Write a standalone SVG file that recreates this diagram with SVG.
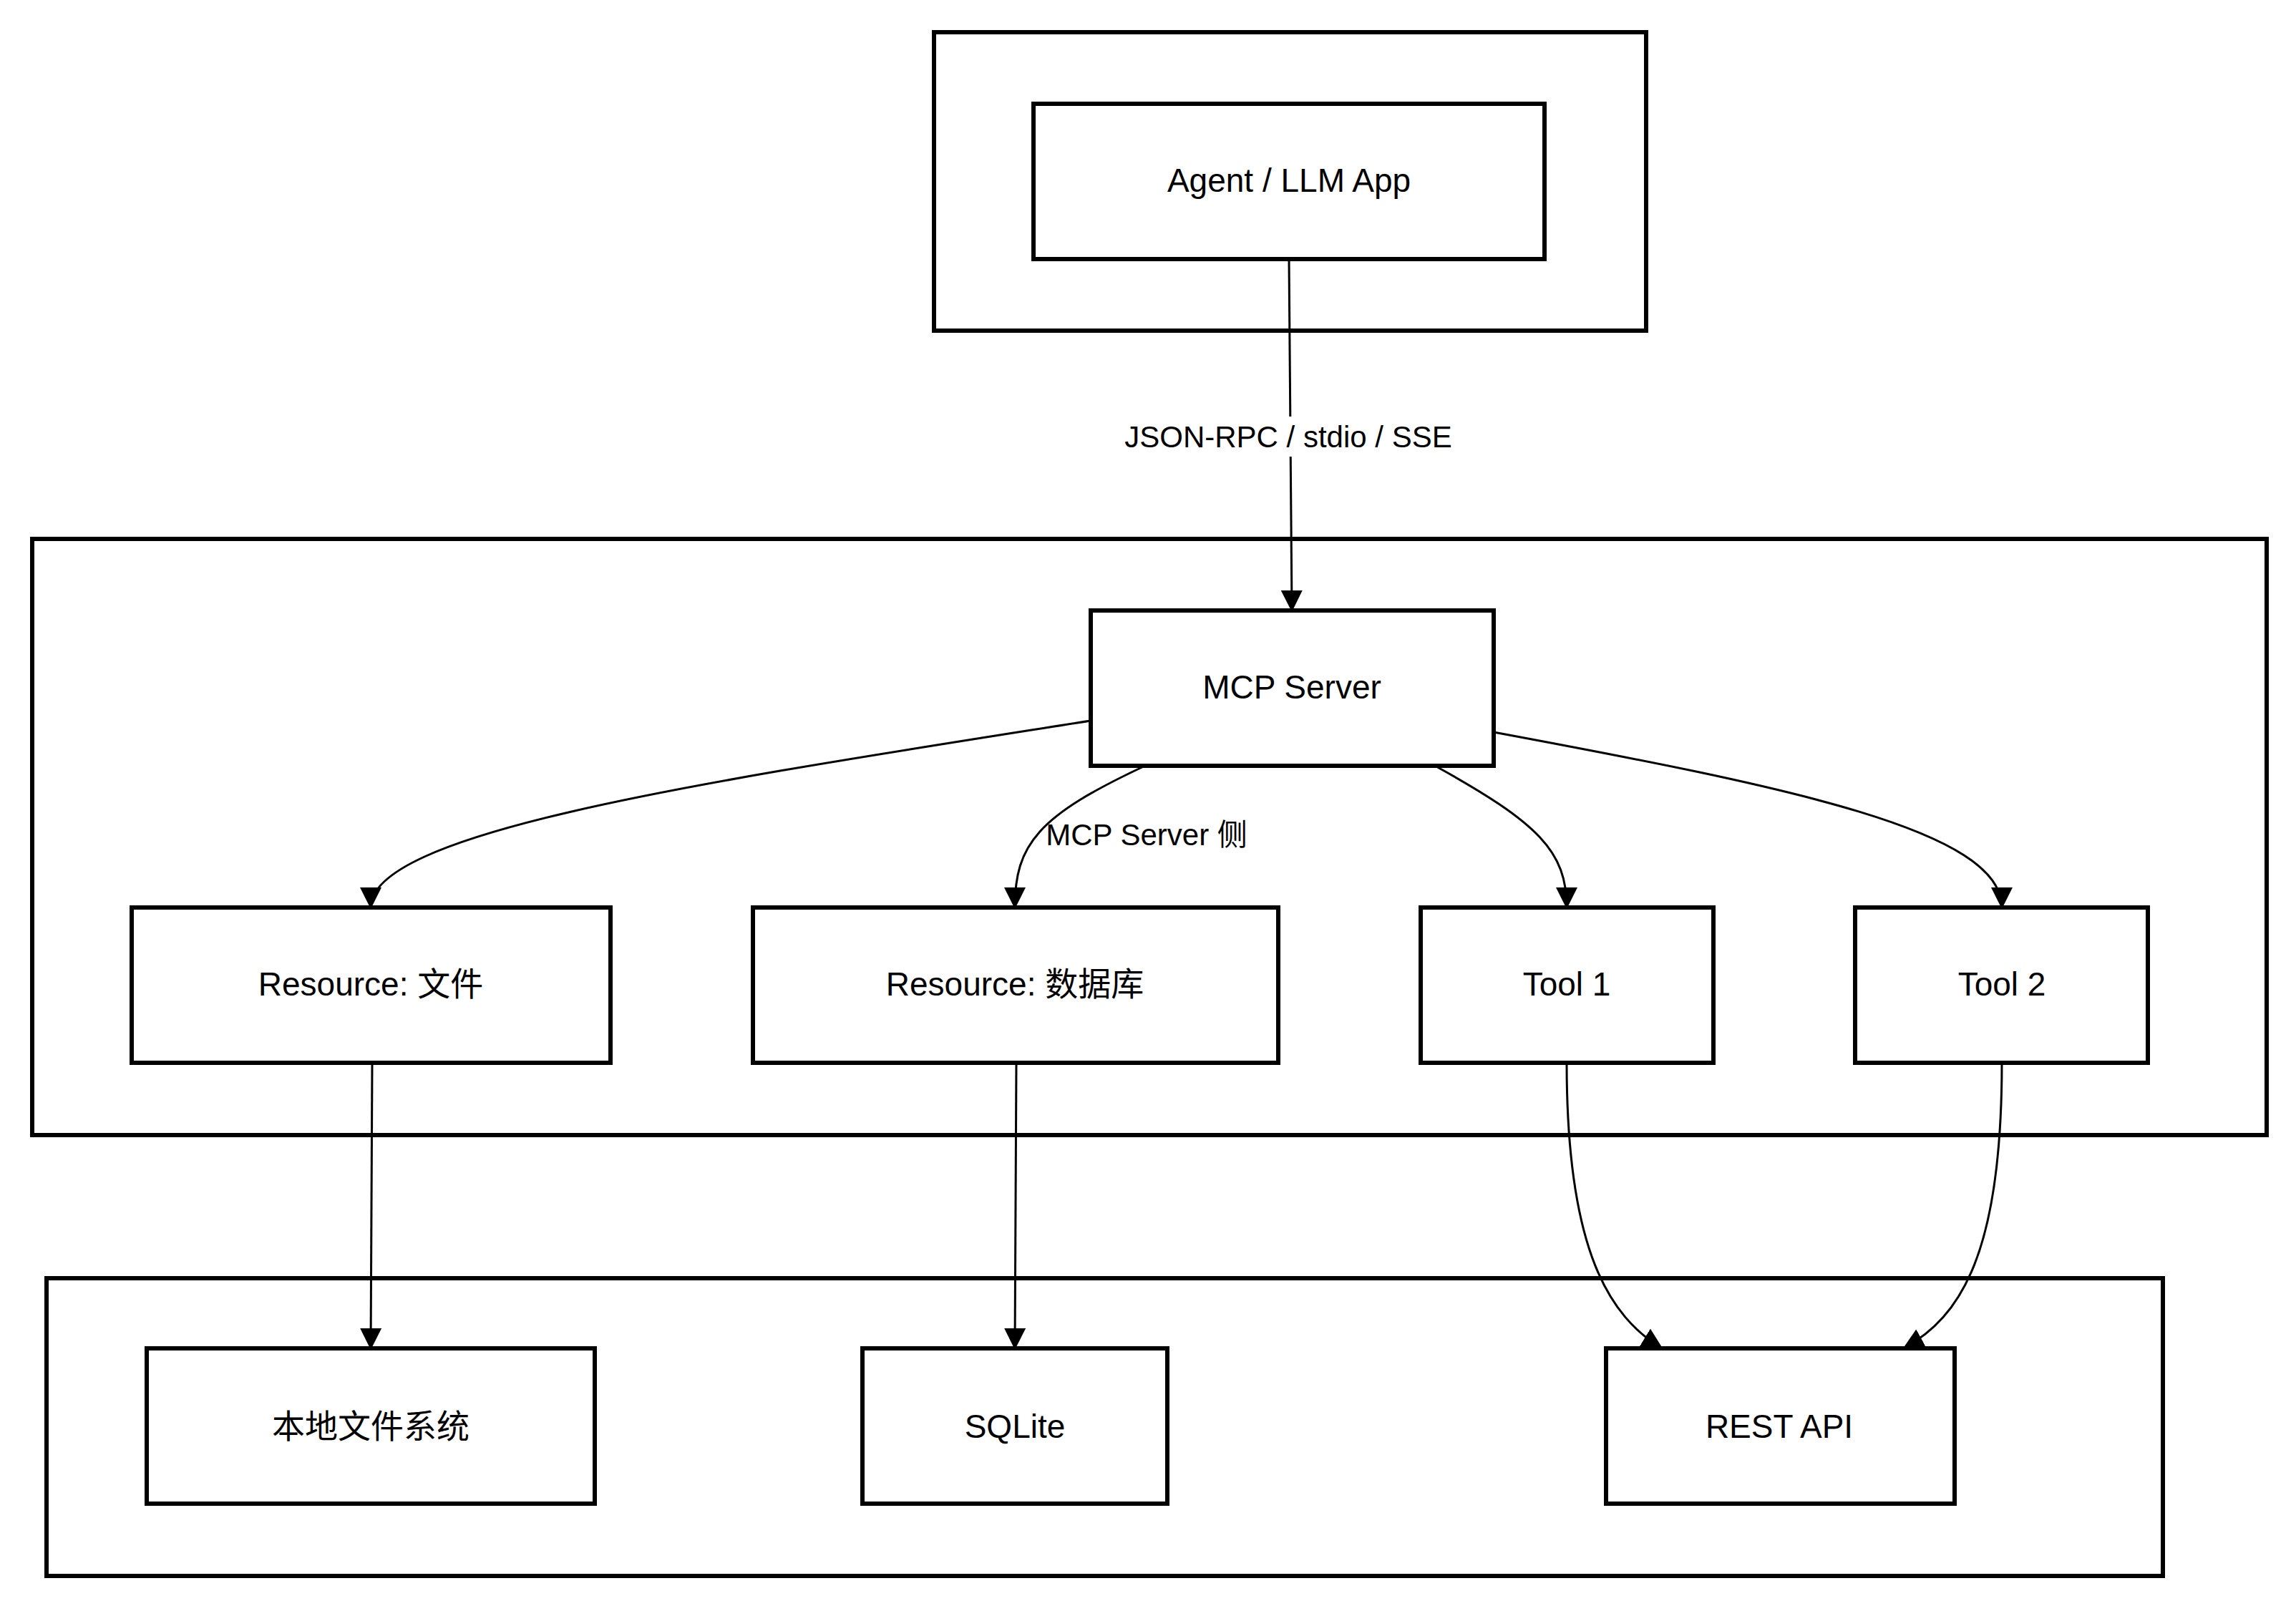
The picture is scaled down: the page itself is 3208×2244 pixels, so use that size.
<svg xmlns="http://www.w3.org/2000/svg" width="3208" height="2244" viewBox="0 0 3208 2244">
<style>
.c{fill:none;stroke:#000;stroke-width:6}
.n{fill:#fff;stroke:#000;stroke-width:6}
.t{font-family:"Liberation Sans","Noto Sans CJK SC",sans-serif;font-size:46px;text-anchor:middle;dominant-baseline:central;fill:#000}
.l{font-family:"Liberation Sans","Noto Sans CJK SC",sans-serif;font-size:42px;text-anchor:middle;dominant-baseline:central;fill:#000}
.e{fill:none;stroke:#000;stroke-width:3;marker-end:url(#a)}
</style>
<defs><marker id="a" markerUnits="userSpaceOnUse" markerWidth="30" markerHeight="30" viewBox="0 0 30 30" refX="28" refY="15" orient="auto"><path d="M0,0 L30,15 L0,30 z" fill="#000"/></marker></defs>
<g id="clusters">
<rect class="c" x="1305" y="45" width="995" height="417"/>
<rect class="c" x="45" y="753" width="3122" height="833"/>
<rect class="c" x="65" y="1786" width="2957" height="416"/>
<text class="l" x="1602" y="1166">MCP Server 侧</text>
</g>
<g id="edges">
<path class="e" d="M1801,362 L1805,853"/>
<rect x="1555" y="582" width="490" height="56" fill="#fff"/>
<text class="l" x="1800" y="610">JSON-RPC / stdio / SSE</text>
<path class="e" d="M1524,1007 C1000,1090 518,1160 518,1268"/>
<path class="e" d="M1600,1070 C1450,1140 1418,1180 1418,1268"/>
<path class="e" d="M2005,1070 C2150,1150 2189,1190 2189,1268"/>
<path class="e" d="M2087,1023 C2500,1100 2797,1160 2797,1268"/>
<path class="e" d="M520,1485 L518,1884"/>
<path class="e" d="M1420,1485 L1418,1884"/>
<path class="e" d="M2189,1485 C2189,1750 2250,1840 2322,1884"/>
<path class="e" d="M2797,1485 C2797,1750 2740,1840 2660,1884"/>
</g>
<g id="agent"><rect class="n" x="1444" y="145" width="714" height="217"/><text class="t" x="1801" y="252">Agent / LLM App</text></g>
<g id="mcp"><rect class="n" x="1524" y="853" width="563" height="217"/><text class="t" x="1805" y="960">MCP Server</text></g>
<g id="res_file"><rect class="n" x="184" y="1268" width="669" height="217"/><text class="t" x="518" y="1375">Resource: 文件</text></g>
<g id="res_db"><rect class="n" x="1052" y="1268" width="734" height="217"/><text class="t" x="1418" y="1375">Resource: 数据库</text></g>
<g id="tool1"><rect class="n" x="1985" y="1268" width="409" height="217"/><text class="t" x="2189" y="1375">Tool 1</text></g>
<g id="tool2"><rect class="n" x="2592" y="1268" width="409" height="217"/><text class="t" x="2797" y="1375">Tool 2</text></g>
<g id="fs"><rect class="n" x="205" y="1884" width="626" height="217"/><text class="t" x="518" y="1993">本地文件系统</text></g>
<g id="sqlite"><rect class="n" x="1205" y="1884" width="426" height="217"/><text class="t" x="1418" y="1993">SQLite</text></g>
<g id="rest"><rect class="n" x="2244" y="1884" width="487" height="217"/><text class="t" x="2486" y="1993">REST API</text></g>
</svg>
